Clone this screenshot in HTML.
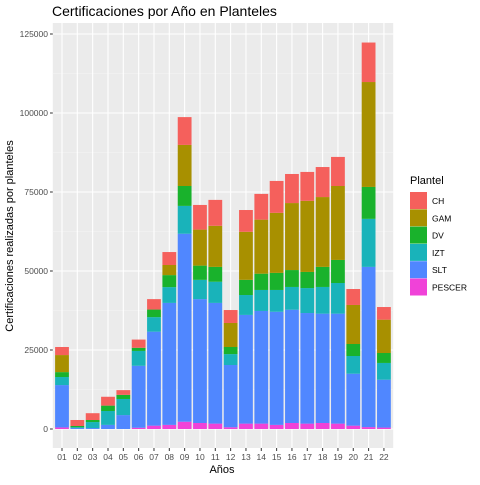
<!DOCTYPE html>
<html><head><meta charset="utf-8"><style>
body{margin:0;background:#fff;font-family:"Liberation Sans",sans-serif}
</style></head><body>
<svg id="c" width="480" height="480" xmlns="http://www.w3.org/2000/svg">
<text x="52" y="16" font-size="14" fill="#000">Certificaciones por Año en Planteles</text>
<rect x="52.8" y="23" width="340.4" height="425" fill="#ebebeb"/>
<g id="grid"></g><g id="bars"></g><g id="axes"></g>
<text x="222" y="473" font-size="11" text-anchor="middle">Años</text>
<text transform="translate(13,236) rotate(-90)" font-size="11" text-anchor="middle">Certificaciones realizadas por planteles</text>
<g id="legend"></g>
</svg>
<script>
const years=["01","02","03","04","05","06","07","08","09","10","11","12","13","14","15","16","17","18","19","20","21","22"];
const PESCER=[500,0,0,0,0,400,1050,1300,2300,1900,1700,550,1700,1700,1300,1900,1700,1900,1700,1050,600,450];
const SLT=[13400,300,300,1300,4400,19600,29750,38600,59500,39200,38200,19700,34400,35650,35800,35850,35000,34600,34800,16450,50700,15150];
const IZT=[2550,250,1900,4400,5100,4700,4600,5000,8800,6100,6700,3450,6300,6650,6900,7200,7900,8450,9700,5600,15200,5300];
const DV=[1550,400,650,1700,1300,1000,2400,3800,6300,4500,4700,2250,4800,5150,5400,5350,5100,6350,7300,3800,10100,3150];
const GAM=[5400,0,0,0,0,0,0,3200,13000,11400,13000,7600,15200,17100,19000,21200,22500,22100,23400,12350,33200,10550];
const CH=[2550,1900,2150,2800,1500,2600,3300,4100,8800,7800,8200,4100,6900,8150,10100,9200,9150,9500,9200,5050,12500,4000];
const series=[["PESCER",PESCER,"#F042D8"],["SLT",SLT,"#5087FF"],["IZT",IZT,"#19B3BA"],["DV",DV,"#19B22C"],["GAM",GAM,"#A89000"],["CH",CH,"#F5605C"]];
const yTicks=[0,25000,50000,75000,100000,125000];
const legendOrder=["CH","GAM","DV","IZT","SLT","PESCER"];
const NS="http://www.w3.org/2000/svg";
const y=v=>429-v*0.00316;
const step=15.33, x=i=>62+i*step, bw=13.8;
function mk(tag,attrs,parent){const e=document.createElementNS(NS,tag);for(const k in attrs)e.setAttribute(k,attrs[k]);parent.appendChild(e);return e;}
const grid=document.getElementById('grid'),bars=document.getElementById('bars'),axes=document.getElementById('axes'),leg=document.getElementById('legend');
for(let i=0;i<yTicks.length-1;i++){const l=mk('line',{x1:52.8,x2:393.2,y1:y((yTicks[i]+yTicks[i+1])/2),y2:y((yTicks[i]+yTicks[i+1])/2),stroke:'#f5f5f5','stroke-width':0.6},grid);

}
yTicks.forEach(t=>{const l=mk('line',{x1:52.8,x2:393.2,y1:y(t),y2:y(t),stroke:'#fff','stroke-width':1.1},grid);


const tk=mk('line',{x1:50,x2:52.8,y1:y(t),y2:y(t),stroke:'#333','stroke-width':1},axes);


const tx=mk('text',{x:48,y:y(t)+3,'font-size':8.5,fill:'#4d4d4d','text-anchor':'end'},axes);tx.textContent=t;

});
years.forEach((yr,i)=>{const l=mk('line',{x1:x(i),x2:x(i),y1:23,y2:448,stroke:'#fff','stroke-width':1.1},grid);


const tk=mk('line',{x1:x(i),x2:x(i),y1:448,y2:451,stroke:'#333','stroke-width':1},axes);


const tx=mk('text',{x:x(i),y:460,'font-size':8.5,fill:'#4d4d4d','text-anchor':'middle'},axes);tx.textContent=yr;


let cum=0;series.forEach(([n,vals,col])=>{const v=vals[i];if(v>0){const r=mk('rect',{x:x(i)-bw/2,y:y(cum+v),width:bw,height:y(cum)-y(cum+v),fill:col},bars);

}cum+=v;});});
const lt=mk('text',{x:410,y:184,'font-size':11},leg);lt.textContent='Plantel';


legendOrder.forEach((n,k)=>{const col=series.find(s=>s[0]===n)[2];const yy=192+k*17.3;
const r=mk('rect',{x:410,y:yy,width:17,height:17,fill:col},leg);


const t=mk('text',{x:432,y:yy+12,'font-size':8.5},leg);t.textContent=n;

});
</script>
</body></html>
